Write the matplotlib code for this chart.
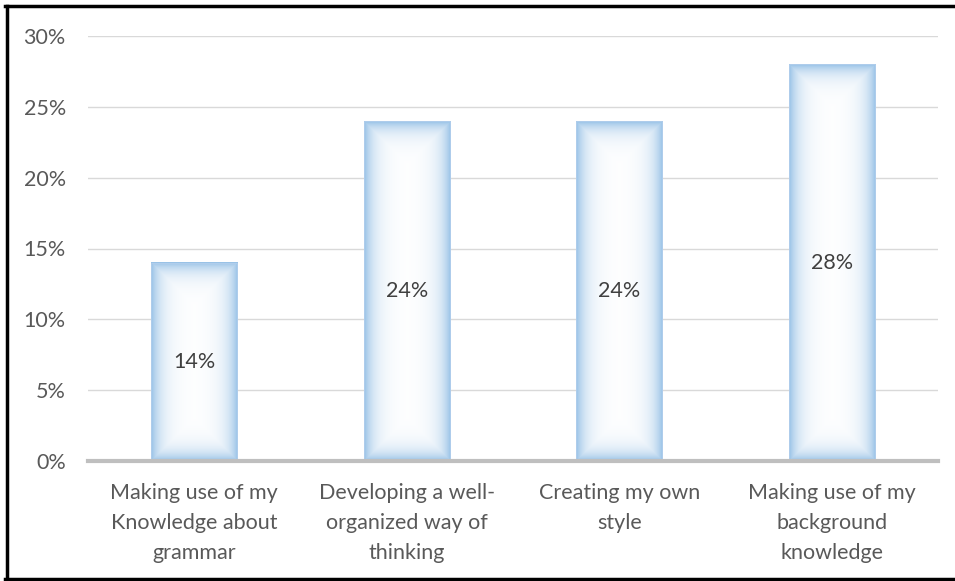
import numpy as np
import matplotlib.pyplot as plt
from matplotlib.patches import Rectangle
from matplotlib.lines import Line2D

categories = [
    "Making use of my\nKnowledge about\ngrammar",
    "Developing a well-\norganized way of\nthinking",
    "Creating my own\nstyle",
    "Making use of my\nbackground\nknowledge",
]
values = [0.14, 0.24, 0.24, 0.28]
value_labels = ["14%", "24%", "24%", "28%"]
ytick_vals = [0, 0.05, 0.10, 0.15, 0.20, 0.25, 0.30]
ytick_labels = ["0%", "5%", "10%", "15%", "20%", "25%", "30%"]

plt.rcParams['font.family'] = ['Lato', 'DejaVu Sans']
txt_color = '#595959'

W, H = 955, 581
fig = plt.figure(figsize=(W / 100, H / 100), dpi=100)
fig.patch.set_facecolor('white')

# plot area in pixels
ax_l, ax_r, ax_top, ax_bot = 88, 938, 36, 461
ax = fig.add_axes([ax_l / W, 1 - ax_bot / H, (ax_r - ax_l) / W, (ax_bot - ax_top) / H])
ax.set_xlim(-0.5, 3.5)
ax.set_ylim(0, 0.30)
for s in ax.spines.values():
    s.set_visible(False)
ax.set_yticks(ytick_vals)
ax.set_yticklabels(ytick_labels)
ax.set_xticks(range(len(categories)))
ax.set_xticklabels(categories, linespacing=1.62)
ax.tick_params(axis='both', length=0, labelsize=15.5, colors=txt_color)
ax.tick_params(axis='y', pad=16)
ax.tick_params(axis='x', pad=16)
ax.grid(axis='y', color='#d9d9d9', linewidth=1)
ax.set_axisbelow(True)
ax.axhline(0, color='#bfbfbf', linewidth=3, zorder=4, clip_on=False)

# bars with a soft blue inner glow
bar_w = 0.405
px_x = (ax_r - ax_l) / 4.0
px_y = (ax_bot - ax_top) / 0.30
edge_rgb = np.array([0.58, 0.75, 0.90])
glow = 10.0
for i, v in enumerate(values):
    bw = int(round(bar_w * px_x))
    bh = int(round(v * px_y))
    xx = np.arange(bw) + 0.5
    yy = np.arange(bh) + 0.5
    dx = np.minimum(xx, bw - xx)[None, :]
    dy = np.minimum(yy, bh - yy)[:, None]
    d = np.minimum(dx, dy)
    k = np.exp(-d / glow)[..., None]
    img = (1 - k) * np.ones(3) + k * edge_rgb
    x0 = i - bar_w / 2
    ax.imshow(img, extent=(x0, x0 + bar_w, 0, v), aspect='auto',
              interpolation='bilinear', zorder=2, origin='lower')
    ax.add_patch(Rectangle((x0, 0), bar_w, v, fill=False,
                           edgecolor='#b3cfec', linewidth=0.6, zorder=3))
    ax.text(i, v / 2, value_labels[i], ha='center', va='center',
            fontsize=15.5, color='#404040', zorder=5)

ax.set_xlim(-0.5, 3.5)
ax.set_ylim(0, 0.30)

# black frame around the chart
for (x0, y0, x1, y1) in [(6.5, 6, 6.5, 579), (5, 6, 955, 6), (5, 579, 955, 579)]:
    fig.add_artist(Line2D([x0 / W, x1 / W], [1 - y0 / H, 1 - y1 / H],
                          color='black', linewidth=2.5))

fig.savefig('out.png', dpi=100)
